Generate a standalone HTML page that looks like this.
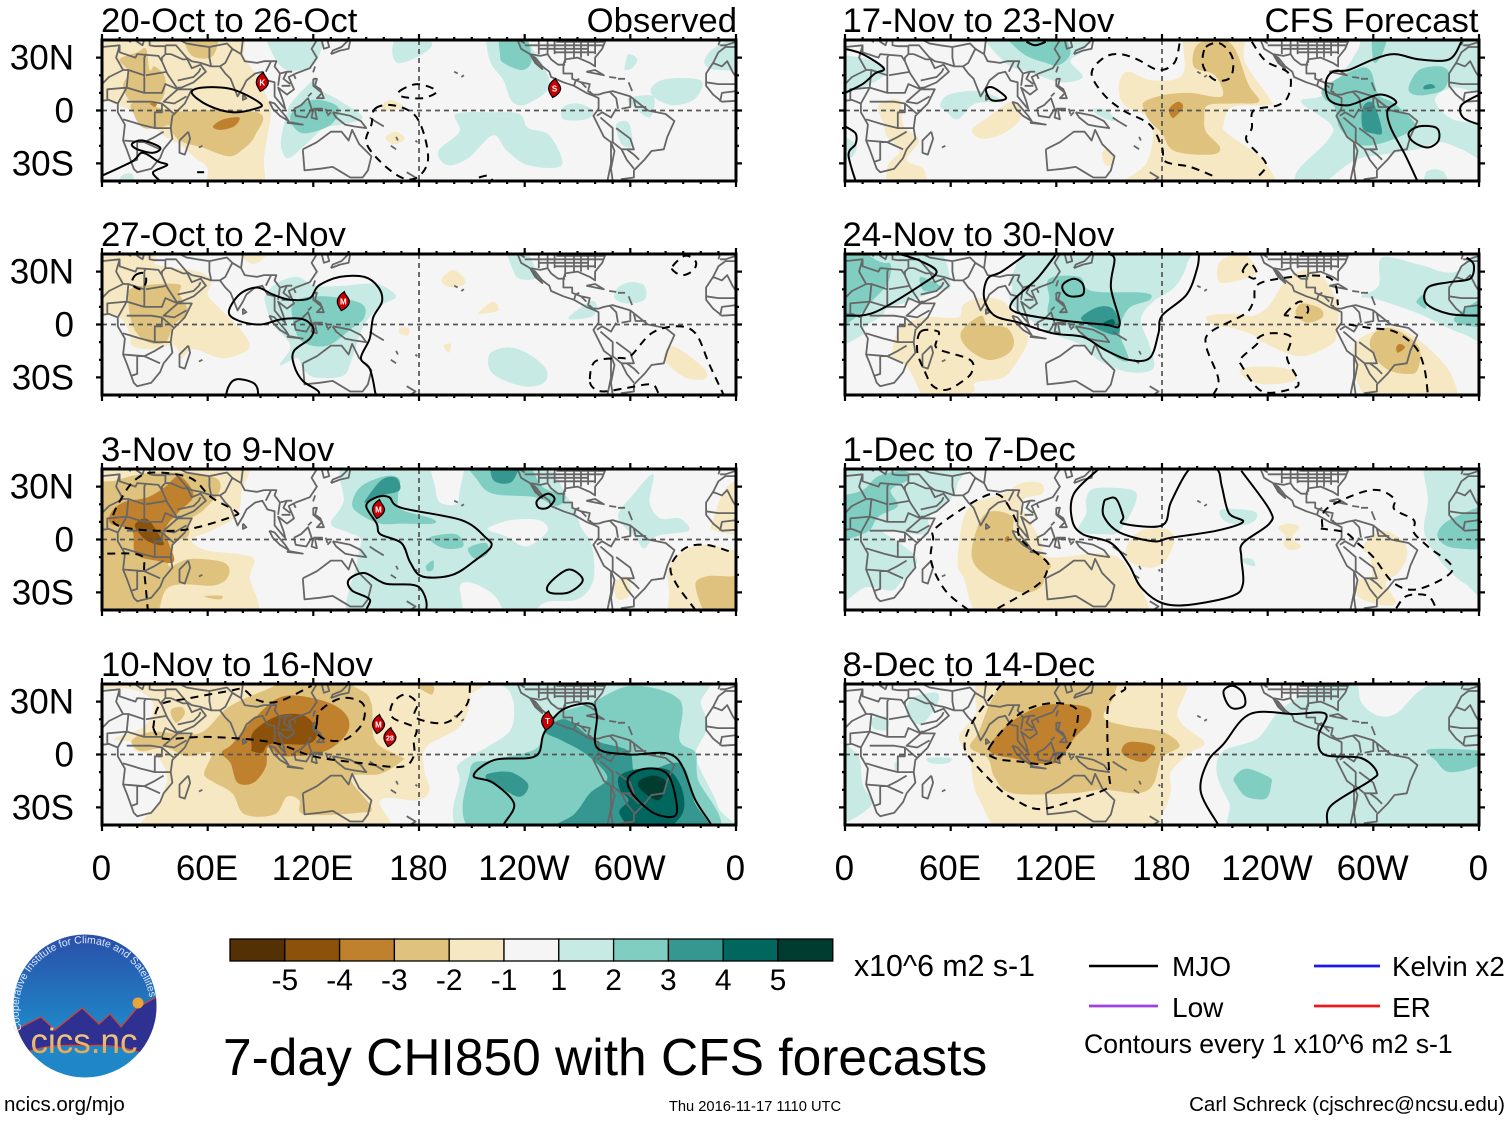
<!DOCTYPE html>
<html lang="en">
<head>
<meta charset="utf-8">
<title>7-day CHI850 with CFS forecasts</title>
<style>
html,body{margin:0;padding:0;background:#fff;}
svg{display:block;}
text{font-family:"Liberation Sans",Arial,sans-serif;fill:#000;}
</style>
</head>
<body>
<svg id="chart" xmlns="http://www.w3.org/2000/svg" width="1510" height="1121" viewBox="0 0 1510 1121">
  <rect width="1510" height="1121" fill="#fff"/>
  <defs>
    <linearGradient id="logoSky" x1="0" y1="0" x2="0" y2="1">
      <stop offset="0" stop-color="#2a4fa8"/><stop offset="0.65" stop-color="#1f86c8"/><stop offset="1" stop-color="#1f86c8"/>
    </linearGradient>
    <linearGradient id="logoText" x1="0" y1="0" x2="0" y2="1">
      <stop offset="0" stop-color="#f5dc9a"/><stop offset="1" stop-color="#e09a45"/>
    </linearGradient>
    <clipPath id="logoClip"><ellipse cx="85" cy="1006" rx="71.5" ry="71.5"/></clipPath>
    <path id="logoRing" d="M 22 1030 A 66 66 0 1 1 150 1000"/>
  </defs>
  <g id="panels"></g>
  <g id="colorbar"></g>
  <text x="854" y="976" font-size="30.3">x10^6 m2 s-1</text>
  <g>
    <ellipse cx="85" cy="1006" rx="71.5" ry="71.5" fill="url(#logoSky)"/>
    <g clip-path="url(#logoClip)">
      <path d="M10 1030 L19 1028 L41 1017 L55 1030 L82 1008 L99 1024 L110 1014 L121 1027 L137 1008 L160 995 L160 1060 Q120 1042 85 1046 Q40 1042 10 1060 Z" fill="#2e3192" stroke="#d8402a" stroke-width="1.2"/>
      <circle cx="138" cy="1003" r="5.5" fill="#eaa53a"/>
    </g>
    <text font-size="10.5" style="fill:#dfe8ff"><textPath href="#logoRing">Cooperative Institute for Climate and Satellites</textPath></text>
    <text x="84" y="1053" font-size="35" text-anchor="middle" style="fill:url(#logoText)">cics.nc</text>
  </g>
  <text x="223" y="1075" font-size="51.5">7-day CHI850 with CFS forecasts</text>
  <text x="4" y="1111" font-size="20.5">ncics.org/mjo</text>
  <text x="755" y="1111" font-size="14.7" text-anchor="middle">Thu 2016-11-17 1110 UTC</text>
  <text x="1505" y="1111" font-size="20.5" text-anchor="end">Carl Schreck (cjschrec@ncsu.edu)</text>
  <g>
    <line x1="1089" x2="1158" y1="966" y2="966" stroke="#000" stroke-width="2.4"/>
    <text x="1172" y="976" font-size="28">MJO</text>
    <line x1="1089" x2="1158" y1="1006" y2="1006" stroke="#a040e0" stroke-width="2.8"/>
    <text x="1172" y="1017" font-size="28">Low</text>
    <line x1="1314" x2="1380" y1="966" y2="966" stroke="#1a1aee" stroke-width="2.8"/>
    <text x="1392" y="976" font-size="27.8">Kelvin x2</text>
    <line x1="1314" x2="1380" y1="1006" y2="1006" stroke="#ee1a1a" stroke-width="2.8"/>
    <text x="1392" y="1017" font-size="28">ER</text>
    <text x="1084" y="1053" font-size="26.6">Contours every 1 x10^6 m2 s-1</text>
  </g>
</svg>
<script>
/* ---------- axis data ---------- */
const lonTicks = [0, 60, 120, 180, 240, 300, 360];
const lonTickLabels = ['0', '60E', '120E', '180', '120W', '60W', '0'];
const latTicks = [30, 0, -30];
const latTickLabels = ['30N', '0', '30S'];
const panelTitles = ['20-Oct to 26-Oct', '27-Oct to 2-Nov', '3-Nov to 9-Nov', '10-Nov to 16-Nov', '17-Nov to 23-Nov', '24-Nov to 30-Nov', '1-Dec to 7-Dec', '8-Dec to 14-Dec'];
const colorbarColors = ['#543005', '#8c510a', '#bf812d', '#dfc27d', '#f6e8c3', '#f5f5f5', '#c7eae5', '#80cdc1', '#35978f', '#01665e', '#003c30'];
const colorbarLabels = ['-5', '-4', '-3', '-2', '-1', '1', '2', '3', '4', '5'];

/* ---------- velocity potential anomaly regions: [level, [lon,lat,...]] ---------- */
const panelFills = [
[ /* 20-Oct */
 [-1,[0,40,72,40,81,30,87,21,93,9,96,0,94,-14,92,-27,90,-40,61,-40,60,-33,53,-27,44,-19,35,-14,19,-1,0,13]],
 [-1,[159,3,164,6,171,2,160,0]],[-1,[161,-15,167,-12,172,-16,167,-19,163,-18]],
 [-2,[10,29,20,33,25,35,27,23,30,25,36,18,33,5,19,3,12,13,15,22]],
 [-2,[47,40,65,40,63,31,50,32]],
 [-2,[40,-1,88,-1,87,-14,80,-22,72,-26,57,-21,44,-17,38,-8]],
 [-2,[18,4,40,-1,38,-8,24,-10,18,-2]],
 [-3,[63,-9,69,-5,78,-4,75,-9,67,-11]],[-3,[27,4,31,4,30,2]],
 [1,[102,-14,105,-2,108,5,121,18,122,13,136,5,148,-4,136,-8,126,-10,116,-19,106,-27,102,-22]],
 [1,[94,40,124,40,121,27,105,23,96,34]],
 [1,[165,36,171,40,187,39,182,32,168,27]],
 [1,[219,40,234,40,254,17,242,4,233,5,228,17,220,29]],
 [1,[297,26,299,32,304,29,301,24,297,23]],
 [1,[312,13,321,18,340,17,337,7,325,3,314,7]],
 [1,[342,27,347,35,359,39,360,25,349,23]],
 [1,[262,2,270,4,279,0,275,-5,262,-5]],
 [1,[299,7,313,8,311,-4,301,3]],
 [1,[292,-8,299,-7,301,-20,295,-19]],
 [1,[191,-23,203,-12,201,-2,222,-1,237,-2,242,-10,254,-14,261,-31,242,-31,230,-23,222,-14,208,-27,196,-31]],
 [1,[10,-39,17,-36,19,-40]],
 [2,[108,-1,120,6,134,2,130,-8,115,-13,108,-8]],
 [2,[226,40,238,40,244,30,239,23,228,27,226,32]]
],
[ /* 27-Oct */
 [-1,[0,40,29,39,31,34,55,30,62,24,60,17,67,9,78,-2,84,-12,78,-17,67,-19,52,-14,45,-19,41,-12,27,-14,17,-12,16,-6,10,4,0,13]],
 [-1,[76,40,97,40,90,36,82,36]],
 [-1,[193,26,199,31,205,27,206,23,199,21,194,23]],
 [-1,[214,7,222,13,225,8,215,6]],
 [-1,[169,-2,174,-2,174,-6,169,-5]],
 [-1,[194,-12,198,-11,197,-16]],
 [-1,[320,-15,326,-13,342,-25,342,-31,331,-30,320,-21]],
 [-2,[18,21,43,23,44,17,49,7,41,0,36,-10,26,-10,18,-2,15,13]],
 [1,[93,17,100,24,111,27,121,22,137,22,156,23,167,16,159,11,149,0,142,-19,137,-29,121,-30,114,-25,111,-19,101,-23,107,-12,97,0,93,11]],
 [1,[228,40,237,40,247,28,237,26,233,32]],
 [1,[293,21,300,24,308,22,308,14,298,12,291,15]],
 [1,[265,4,277,13,281,11,279,5,270,3]],
 [1,[220,-17,230,-13,241,-16,252,-25,251,-33,239,-35,222,-28]],
 [2,[109,13,126,16,147,12,149,4,142,-2,128,-12,114,-10,109,0]]
],
[ /* 3-Nov */
 [-1,[0,40,77,40,79,26,76,13,62,5,51,0,59,-6,85,-10,84,-21,82,-40,0,-40]],
 [-1,[322,-15,331,-6,343,-3,357,-6,360,-8,360,-40,326,-40,322,-29]],
 [-1,[347,11,355,30,360,32,360,5,348,5]],
 [-1,[291,-25,298,-21,300,-31,293,-34]],
 [-2,[0,23,10,34,32,38,62,36,67,28,58,17,50,11,49,2,41,-2,38,-15,50,-11,69,-13,72,-20,64,-26,38,-27,27,-40,0,-40]],
 [-2,[59,-32,68,-32,67,-34,60,-33]],
 [-2,[337,-27,343,-21,357,-21,360,-21,360,-40,347,-40]],
 [-3,[12,21,26,24,36,30,44,36,52,25,43,15,36,5,41,-12,31,-12,19,-8,17,5,5,9,5,15]],
 [-4,[19,9,25,12,31,5,35,-3,26,-1,20,5]],
 [1,[130,9,137,21,144,40,239,40,265,23,272,7,278,-3,279,-23,270,-34,251,-36,241,-40,232,-40,222,-31,204,-25,200,-40,142,-40,145,-12,147,0,140,4]],
 [1,[293,13,302,26,313,37,311,21,317,12,328,12,333,5,315,2,308,-5,303,1]],
 [0,[187,40,205,40,203,27,201,20,192,21,189,30]],
 [0,[220,7,232,11,248,11,253,5,241,-4,229,2,220,5]],
 [2,[142,20,147,30,161,36,169,34,168,24,170,17,187,12,188,9,170,9,158,9,147,14]],
 [2,[206,40,237,40,250,30,263,25,258,19,246,24,222,26,213,34]],
 [2,[186,1,201,3,205,-4,194,-5]],
 [2,[208,-5,218,-2,219,-8,212,-11]],
 [2,[184,-15,188,-12,188,-17,185,-18]],
 [3,[150,23,159,34,167,35,169,28,159,25,150,21]],
 [3,[222,40,237,40,233,33,222,34]]
],
[ /* 10-Nov */
 [-1,[0,40,206,40,209,33,207,22,201,14,184,4,183,-9,186,-20,179,-26,158,-26,155,-40,29,-40,33,-26,37,-13,31,-1,19,2,17,7,7,9,24,16,29,29,17,37,0,38]],
 [-2,[17,8,29,13,55,12,72,27,96,38,119,40,146,37,153,29,155,8,169,-1,171,-3,158,-11,141,-13,153,-30,146,-33,115,-34,112,-26,105,-24,98,-34,81,-34,74,-22,64,-16,58,-11,62,1,48,-1,36,4,22,2]],
 [-2,[39,25,45,27,47,23,42,18]],
 [-2,[179,39,188,39,187,34]],
 [-3,[68,1,74,6,86,20,103,33,127,30,139,22,139,12,127,2,108,-1,100,0,94,4,93,-7,86,-16,77,-16,73,-5]],
 [-4,[85,4,86,13,100,22,115,22,122,13,117,6,96,6,91,1,85,2]],
 [1,[229,40,338,40,340,29,344,16,337,1,340,-9,350,-30,352,-40,213,-40,203,-13,203,-5,220,5,232,14,234,27,232,35]],
 [2,[277,29,301,39,328,31,328,8,337,1,338,-13,344,-40,218,-40,209,-9,222,-3,246,3,251,14,258,23]],
 [3,[219,-11,232,-10,242,-17,237,-24,225,-18,219,-15]],
 [3,[252,13,263,20,280,8,299,2,304,-11,328,-5,336,-26,340,-40,251,-40,268,-34,277,-22,287,-13,275,0,261,8]],
 [4,[294,-12,306,-8,322,-9,330,-22,328,-36,309,-40,294,-34,299,-26,294,-20]],
 [5,[305,-15,313,-12,320,-15,319,-22,315,-26,306,-20]]
],
[ /* 17-Nov */
 [1,[0,30,17,28,23,21,10,13,0,9]],
 [1,[81,40,142,40,135,34,128,28,135,19,123,16,107,21,90,28]],
 [1,[0,-13,6,-19,3,-27,0,-27]],
 [1,[54,3,59,9,76,11,90,5,74,4,64,-5,57,0]],
 [1,[141,1,149,0,153,-6,144,-3]],
 [1,[259,5,272,9,286,26,291,34,303,40,360,40,360,12,345,13,335,6,345,-5,360,-10,360,-30,350,-22,338,-18,325,-22,305,-25,288,-29,262,-40,256,-36,274,-17,276,-8]],
 [1,[330,-35,340,-35,343,-40,330,-40]],
 [2,[272,13,289,23,298,23,303,9,312,4,324,-8,319,-13,303,-19,291,-19,281,-10,278,2,272,7]],
 [2,[320,13,326,23,338,25,343,21,340,12,331,9,323,9]],
 [2,[300,40,309,40,305,32,300,28]],
 [2,[89,40,118,40,128,34,122,26,114,27,100,33]],
 [3,[294,2,300,4,305,-12,300,-13,294,-10]],
 [3,[329,14,333,15,335,13,329,12]],
 [-1,[72,-11,81,-4,95,5,100,-4,90,-13,78,-16]],
 [-1,[19,3,31,6,33,-8,42,-17,35,-28,45,-34,44,-40,26,-40,24,-32,31,-23,24,-15,22,-8]],
 [-1,[146,-24,150,-22,153,-30,148,-31]],
 [-1,[156,17,161,22,175,17,192,21,194,40,225,40,227,28,241,7,241,3,220,2,215,-8,217,-13,239,-30,237,-40,156,-40,171,-30,175,-12,171,-3,160,2,156,8]],
 [-2,[170,5,182,9,196,10,214,8,210,20,198,25,201,38,219,38,229,15,235,5,220,4,206,3,204,-4,205,-12,213,-21,208,-25,187,-23,180,-13,173,-6,170,0]],
 [-3,[184,1,189,5,192,2,187,-4,185,-3]]
],
[ /* 24-Nov */
 [1,[0,40,47,40,60,23,52,19,36,13,24,9,21,5,10,-2,10,-6,0,-8]],
 [1,[95,29,114,40,192,40,194,34,187,21,175,13,168,3,173,-12,175,-25,161,-27,145,-21,135,-12,116,-4,95,11,95,21]],
 [1,[293,16,303,22,305,38,326,34,347,30,360,40,360,-7,350,-5,326,6,303,14]],
 [2,[0,40,19,36,26,34,24,23,15,13,10,7,0,0]],
 [2,[43,27,55,21,45,19]],
 [2,[116,26,133,27,140,19,170,18,173,14,161,9,156,-4,161,-19,156,-20,142,-10,130,-2,116,5,116,15]],
 [2,[325,14,329,17,330,9,325,12]],
 [2,[347,5,360,17,360,0,350,0]],
 [3,[135,5,144,10,152,9,156,0,154,-6,142,-2,135,2]],
 [4,[147,1,152,3,153,0,148,-1]],
 [-1,[26,-19,31,-2,45,4,64,4,67,11,76,15,90,13,99,0,104,-8,99,-19,90,-30,74,-33,72,-39,50,-40,36,-25,27,-20]],
 [-1,[212,34,219,39,228,39,234,30,227,26,213,24]],
 [-1,[206,5,222,6,232,5,241,11,251,26,263,31,272,26,280,11,279,-6,275,-12,258,-18,237,-10,232,-6,220,-2,208,0]],
 [-1,[225,-25,244,-24,255,-27,255,-32,239,-34,228,-31]],
 [-1,[289,-12,300,-4,314,-2,331,-13,345,-30,345,-40,308,-40,300,-40,290,-30]],
 [-2,[66,-4,77,5,81,0,92,-2,96,-10,92,-17,81,-20,69,-13]],
 [-2,[256,8,260,12,270,9,271,4,263,1,257,4]],
 [-2,[298,-10,303,-3,313,-3,326,-13,325,-26,319,-28,309,-26,301,-19]],
 [-3,[313,-13,315,-11,318,-13,314,-16]]
],
[ /* 1-Dec */
 [1,[0,40,67,40,64,32,60,23,48,13,46,3,22,5,31,-2,41,-12,31,-25,26,-29,12,-27,0,-32]],
 [1,[137,23,142,29,163,28,165,21,156,5,147,3,133,5,137,15]],
 [1,[214,17,232,16,233,11,225,8,215,11]],
 [1,[225,-11,231,-11,233,-15,228,-14]],
 [1,[331,40,360,40,360,-30,352,-25,338,-12,329,4,331,22]],
 [2,[0,21,10,28,19,36,34,39,36,34,26,28,30,19,19,13,12,4,0,0]],
 [2,[337,5,345,12,360,19,360,-3,347,-5,338,-1]],
 [-1,[64,-12,67,11,74,21,90,26,100,32,111,32,112,26,100,21,111,0,116,-10,147,-8,161,-17,168,-40,85,-40,67,-21]],
 [-1,[160,-4,168,5,182,6,187,0,182,-12,173,-16,161,-12]],
 [-1,[246,7,252,9,258,7,254,1,259,-4,253,-6,249,-3,250,2]],
 [-1,[294,-4,305,5,317,-1,319,-10,314,-19,307,-25,313,-36,303,-37,291,-32,292,-23,299,-21,298,-10]],
 [-2,[72,-10,76,9,83,16,95,13,97,2,116,-13,114,-19,111,-27,100,-30,81,-21]],
 [-3,[91,1,93,2,93,-1,91,-1]]
],
[ /* 8-Dec */
 [1,[38,32,52,35,52,28,43,17,35,23]],
 [1,[16,21,24,21,24,14,16,15]],
 [1,[0,5,7,0,10,-17,15,-29,0,-38]],
 [1,[47,-2,60,-2,58,-5,49,-5]],
 [1,[28,-5,31,-5,29,-10]],
 [1,[215,2,234,9,246,24,263,36,288,40,293,30,303,22,314,24,331,39,360,40,360,-40,232,-40,218,-27,211,-10]],
 [2,[221,-13,228,-8,241,-13,242,-17,239,-25,228,-24,222,-17]],
 [2,[332,3,360,1,358,-7,343,-10,336,-4]],
 [-1,[65,11,74,23,85,40,187,40,189,21,204,7,196,1,185,-10,185,-21,180,-34,170,-40,97,-40,76,-25,71,-4,67,4]],
 [-2,[76,13,85,34,100,40,151,40,153,34,147,21,161,16,180,13,190,5,180,-2,175,-17,166,-22,147,-20,128,-22,95,-22,85,-13,81,-2,71,4]],
 [-3,[82,5,95,19,114,28,137,27,139,19,130,9,121,-4,109,-5,95,-2,85,0]],
 [-3,[157,2,161,7,173,6,176,3,170,-4,161,-2]]
]
];

/* ---------- MJO contour lines ---------- */
const panelSolidClosed = [
 [[51,10,57,13,74,12,90,4,87,1,74,-1,60,3],[17,-19,23,-17,33,-21,29,-24,20,-22]],
 [[72,7,78,17,88,21,97,17,107,14,118,15,123,22,135,27,149,27,157,21,159,13,154,4,152,-8,147,-19,152,-25,155,-38,155,-45,125,-45,123,-38,114,-32,109,-23,109,-15,118,-8,120,-2,114,3,102,3,90,0,78,2],[72,-35,77,-31,87,-34,87,-42,72,-42]],
 [[150,19,156,24,163,24,170,18,204,11,218,1,221,-4,213,-11,199,-20,182,-21,175,-13,170,-2,158,3,156,9],[247,22,253,26,257,23,253,18,248,18],[254,-25,265,-17,273,-23,265,-30,254,-30],[140,-23,149,-19,161,-25,180,-27,182,-42,152,-42,152,-34,142,-29]],
 [[211,-12,223,-3,246,-1,251,12,261,25,277,29,281,22,281,4,299,0,325,-1,337,-26,346,-40,346,-45,228,-45,228,-40,234,-28,222,-16],[299,-13,309,-8,321,-11,326,-26,325,-35,313,-33,301,-22]],
 [[80,12,84,13,91,8,90,6,83,6],[320,-13,326,-9,336,-10,337,-17,331,-21,323,-18]],
 [[124,23,130,26,135,23,135,17,128,16,124,19]],
 [[149,23,154,23,158,13,158,9,180,8,185,21,194,38,199,40,211,40,214,30,218,15,226,10,211,5,185,1,175,-1,156,4,147,13,147,21]],
 [[215,36,220,39,226,35,227,28,221,26,217,29]]
];
const panelSolidOpen = [
 [[0,-37,17,-29,23,-24,32,-29,37,-31,29,-35,33,-40],[54,-35,58,-35]],
 [],
 [],
 [],
 [[0,35,10,32,22,24,17,21,10,15,0,10],[0,-9,6,-13,6,-19,2,-25,6,-40],[103,39,108,37,114,39],[350,39,343,29,326,29,312,32,300,29,286,23,277,22,273,16,275,6,286,3,303,9,313,5,308,0,310,-10,318,-25,325,-40],[360,9,350,3,351,-4,360,-8]],
 [[0,5,17,7,44,23,52,30,43,36,31,40],[103,40,89,30,81,26,79,15,85,5,99,1,118,-5,135,-7,147,-14,161,-20,173,-19,178,-5,180,5,194,17,200,32,201,40],[120,40,109,26,95,13,97,7,118,3,147,0,156,0,151,21,153,37,149,40],[360,5,343,6,330,12,331,21,343,24,355,26,357,34,353,38]],
 [[144,40,130,26,129,11,135,3,151,-2,161,-14,168,-27,180,-36,196,-37,220,-32,226,-25,225,-10,226,-2,241,9,241,17,225,39]],
 [[274,-40,276,-29,298,-15,302,-10,293,-2,272,0,269,11,273,23,255,23,230,23,215,6,206,-4,202,-21,212,-40]]
];
const panelDashClosed = [
 [[169,11,179,15,190,11,182,7,170,8],[155,1,165,3,177,-2,183,-14,185,-29,179,-38,170,-38,158,-29,150,-18,153,-8]],
 [[19,28,24,29,25,24,22,20,17,23],[324,33,331,39,337,36,336,31,330,28,325,30],[277,-31,280,-21,293,-19,300,-18,312,-5,326,-1,337,-5,345,-23,353,-40,355,-45,320,-45,316,-39,312,-34,298,-36,285,-38,279,-36]],
 [[76,16,74,13,50,6,31,5,12,7,6,12,12,25,19,34,29,38,50,35,62,24]],
 [[122,18,124,25,136,32,148,29,148,18,139,9,129,8,122,12]],
 [[205,36,213,38,220,30,219,19,211,17,205,22,203,28]],
 [[43,-4,53,-4,52,-9,53,-14,71,-20,72,-27,67,-32,58,-37,50,-35,45,-26,41,-15],[226,31,230,35,234,29,232,26,227,29],[250,6,258,13,263,9,260,4,252,5],[234,-8,241,-5,253,-7,251,-19,257,-31,255,-36,237,-38,225,-23,225,-19,234,-11]],
 [[271,7,273,17,291,26,303,28,312,23,312,17,323,11,323,4,331,-4,345,-17,326,-28,312,-25,300,-10,291,-2,284,4,272,6]],
 [[82,4,99,23,116,29,130,27,132,19,127,5,116,-5,99,-4,85,-2]]
];
const panelDashOpen = [
 [[214,-38,219,-37,222,-40]],
 [],
 [[3,-8,22,-9,24,-19,26,-40],[337,-40,326,-25,323,-15,331,-5,343,-3,357,-7]],
 [[29,15,35,9,60,10,96,7,120,-1,148,-5,170,-7,177,-1,177,8,178,15,165,21,165,29,172,34,179,29,178,21,195,18,207,28,209,40],[29,15,33,28,50,32,72,36,80,37,88,31,100,30,119,39]],
 [[190,38,187,27,178,23,166,29,156,32,147,30,140,21,147,9,158,0,173,-8,180,-21,182,-29,196,-32,211,-38],[231,39,239,28,252,21,252,9,246,3,232,0,231,-10,228,-17,239,-30,234,-38]],
 [[209,-40,212,-31,205,-12,208,-4,227,6,232,13,237,24,274,27,280,11],[286,0,298,-2,312,-4,324,-13,329,-25,331,-40]],
 [[70,-40,57,-29,49,-13,50,0,52,7,76,23,88,25,97,11,100,0,114,-12,115,-17,109,-26,85,-40],[313,-39,319,-32,331,-32,336,-40]],
 [[89,40,74,21,68,7,71,-2,87,-19,97,-26,111,-31,133,-25,149,-19,150,-12,149,9,150,30,159,37,156,40]]
];

/* ---------- tropical cyclones: [label, lon, lat] ---------- */
const panelStorms = [
 [['K',91,16],['S',257,12.5]],
 [['M',137,13]],
 [['M',157,17]],
 [['M',157,17],['28',163.5,9.6],['T',253,19]],
 [],[],[],[]
];

/* ---------- coastlines and borders [lon,lat,...] ---------- */
const coastLines = [
 [0,5.5,4,6,9,4,9,-1,13,-8,12,-17,14,-22,18,-33,20,-35,28,-33,33,-27,35,-22,40,-16,39,-10,40,-3,47,4,51,12,43,12,37,21,34,28,32,31,20,32,19,30,10,33,10,37,0,36],
 [360,5.5,352,5,347,9,343,14,343,21,347,27,350,33,354,36,360,36],
 [0,39,3,42,5,43,9,44,12,42,16,39,16,41,13,45,18,41,20,39,23,37,24,40,27,40,27,37,30,36.5,36,36.5,36,32,34,30,34,28],
 [351,37,354,37,360,39],[350,37,351,40],
 [43,13,45,13,52,16,59,22,56,26,51,24,48,30,51,28,56,27,62,25,67,25,70,21,73,18,77,8,80,13,82,17,87,21,91,22,94,17,98,16,98,8,103,2,104,1,103,5,100,13,105,9,109,12,106,19,110,21,118,24,122,30,119,35,122,40],
 [125,40,125,39,126,35,129,36,128,40],[130,32,135,34,140,35,141,40],[130,32,131,34,136,36,140,40],
 [95,5,98,4,104,-3,106,-6,101,-3,97,1,95,5],[105,-7,114,-8,106,-6.5,105,-7],
 [109,1,113,3,117,7,119,1,116,-4,110,-3,109,1],[120,1,125,1,121,0,122,-5,119,-4,120,1],
 [120,18,122,18,121,14,124,12,126,7,122,7,125,10,120,14,120,18],[119,10,117,8],
 [131,-1,141,-3,147,-6,150,-10,143,-9,138,-8,133,-4,131,-1],[128,-3,130,-1],[127,1,128,-2],
 [114,-22,122,-18,130,-12,136,-12,140,-17,142,-11,146,-19,153,-26,151,-34,148,-38,141,-38,136,-35,131,-32,124,-33,115,-34,114,-22],
 [49,-12,50,-16,47,-25,44,-24,44,-17,49,-12],[80,9,82,7,80,6,80,9],[121,25,120,22,121,25],[109,20,110,18],
 [55,-21,57,-20],[152,-4,155,-6],[155,-6,160,-9],[167,-15,168,-17],[178,-17,179,-18],[164,-20,167,-22],[173,-35,178,-38,175,-40],[204,19,205.5,20],[200,22,202,21],
 [236,40,238,35,243,32,246,27,250,23.5,247,27,244,31,246,30,250,25,254,22,255,19,262,16,268,14,275,10,280,8,282,7,282,1,279,-3,285,-15,289,-18,289,-30,287,-40],
 [298,-40,295,-39,302,-38,302,-34,308,-28,312,-23,319,-22,321,-15,325,-6,320,-2,310,0,300,8,290,11,285,10,282,9,279,9,276,11,277,15,272,16,267,18,267,21,262,21,262,26,263,29,270,30,277,27,280,25,280,30,284,35,286,40],
 [275,22,285,20,280,23,275,22],[288,19,292,18.5],[297,18,293,18],[299,16,301,11],[237,40,240,38]
];
const borderLines = [
 [10,37,8,30,12,23,15,23,24,20,24,30,25,32],[25,20,37,22],[24,20,24,10,34,10,36,15,43,12],[15,23,14,13,24,10],[0,15,4,19,12,23],[3,6,3,12,14,13],[9,4,14,13],[14,5,28,5,34,4,41,-2],[34,4,34,-1,30,-1,30,-10,39,-10],[12,-5,22,-8,30,-10],[12,-17,24,-18,30,-15,35,-12],[20,-18,20,-28,17,-29],[24,-18,33,-22],[43,12,35,5,41,4,48,8],
 [343,16,350,15,360,15],[347,27,352,25,355,28,358,22,360,19],[351,5,352,10,360,11],
 [36,37,42,37,48,30],[39,32,46,29,48,29],[36,32,39,32],[43,17,52,19,55,22,56,24],[44,40,48,38,54,37,61,36,61,30,62,25],[61,36,66,37,71,38,74,35,70,27,67,25],[74,35,79,32,81,28,88,27,92,28,96,28,93,22],[79,32,80,40],[92,28,99,28,98,25,101,21,100,14],[101,21,105,22,108,22],[102,14,107,14],[105,22,103,18,107,15],
 [283,-4,290,-10,290,-18,295,-22,298,-28,302,-33],[292,1,289,-4,284,-1,281,-3],[289,-18,291,-23,289,-33,290,-40],[298,-22,302,-25,305,-28],[293,1,292,7,288,11],[300,8,300,2,295,1],[302,6,303,2,309,2],[292,-10,300,-16,302,-22,295,-22],
 [268,14,269,17,271,18],[272,16,275,13],[277,11,278,9],
 [243,32,249,31,253,32,255,29,259,26,263,26],[248,40,248,32],[253,40,253,32],[257,40,257,32],[263,40,263,27],[268,40,268,30],[272,40,272,30],[276,40,276,31],[280,40,280,32],[240,37,285,37],[248,35,276,35],[257,33,280,33],[258,39,286,39]
];

/* ---------- axes ---------- */
const SVGNS = 'http://www.w3.org/2000/svg';
const PLOT_W = 634, PLOT_H = 141;
const colLefts = [102, 845];
const rowTops = [40, 254, 469, 684];

function makeEl(tag, attrs, parent) {
  const el = document.createElementNS(SVGNS, tag);
  for (const k in attrs) el.setAttribute(k, attrs[k]);
  if (parent) parent.appendChild(el);
  return el;
}
function xScale(lon, left) { return left + (lon / 360) * PLOT_W; }
function yScale(lat, top) { return top + PLOT_H / 2 - (lat / 40) * (PLOT_H / 2); }

function flatToPoints(flat, left, top, pushEdges) {
  const pts = [];
  for (let i = 0; i < flat.length; i += 2) {
    let x = xScale(flat[i], left), y = yScale(flat[i + 1], top);
    if (pushEdges) {
      if (flat[i] <= 0) x -= 14;
      if (flat[i] >= 360) x += 14;
      if (flat[i + 1] >= 40) y -= 14;
      if (flat[i + 1] <= -40) y += 14;
    }
    pts.push([x, y]);
  }
  return pts;
}
function closedSpline(p) {
  const n = p.length;
  let d = 'M' + p[0][0].toFixed(1) + ' ' + p[0][1].toFixed(1);
  for (let i = 0; i < n; i++) {
    const a = p[(i - 1 + n) % n], b = p[i], c = p[(i + 1) % n], e = p[(i + 2) % n];
    d += 'C' + (b[0] + (c[0] - a[0]) / 6).toFixed(1) + ' ' + (b[1] + (c[1] - a[1]) / 6).toFixed(1) + ' ' +
         (c[0] - (e[0] - b[0]) / 6).toFixed(1) + ' ' + (c[1] - (e[1] - b[1]) / 6).toFixed(1) + ' ' +
         c[0].toFixed(1) + ' ' + c[1].toFixed(1);
  }
  return d + 'Z';
}
function openSpline(p) {
  const n = p.length;
  let d = 'M' + p[0][0].toFixed(1) + ' ' + p[0][1].toFixed(1);
  for (let i = 0; i < n - 1; i++) {
    const a = p[Math.max(i - 1, 0)], b = p[i], c = p[i + 1], e = p[Math.min(i + 2, n - 1)];
    d += 'C' + (b[0] + (c[0] - a[0]) / 6).toFixed(1) + ' ' + (b[1] + (c[1] - a[1]) / 6).toFixed(1) + ' ' +
         (c[0] - (e[0] - b[0]) / 6).toFixed(1) + ' ' + (c[1] - (e[1] - b[1]) / 6).toFixed(1) + ' ' +
         c[0].toFixed(1) + ' ' + c[1].toFixed(1);
  }
  return d;
}
function polyline(flat, left, top) {
  const p = flatToPoints(flat, left, top, false);
  return 'M' + p.map(q => q[0].toFixed(1) + ' ' + q[1].toFixed(1)).join('L');
}

const panelsRoot = document.getElementById('panels');
const defs = document.querySelector('defs');

panelTitles.forEach(function (title, idx) {
  const left = colLefts[idx < 4 ? 0 : 1];
  const top = rowTops[idx % 4];
  const isBottom = idx % 4 === 3;
  const textShift = idx < 4 ? 0 : -1.5;

  const g = makeEl('g', {}, panelsRoot);
  
  

  const clip = makeEl('clipPath', { id: 'clip' + idx }, defs);
  makeEl('rect', { x: left, y: top, width: PLOT_W, height: PLOT_H }, clip);

  const bg = makeEl('rect', { x: left, y: top, width: PLOT_W, height: PLOT_H, fill: colorbarColors[5] }, g);
  
  

  const plot = makeEl('g', { 'clip-path': 'url(#clip' + idx + ')' }, g);
  
  

  panelFills[idx].forEach(function (f) {
    const pts = flatToPoints(f[1], left, top, true);
    const shape = makeEl('path', { d: closedSpline(pts), fill: colorbarColors[f[0] + 5] }, plot);
    
    
  });

  const coastPath = coastLines.concat(borderLines).map(l => polyline(l, left, top)).join('');
  const coast = makeEl('path', { d: coastPath, fill: 'none', stroke: '#666', 'stroke-width': 1.8, 'stroke-linejoin': 'round' }, plot);
  
  

  const eq = makeEl('line', { x1: left, x2: left + PLOT_W, y1: yScale(0, top), y2: yScale(0, top), stroke: '#555', 'stroke-width': 1.7, 'stroke-dasharray': '5 4' }, plot);
  
  
  const dl = makeEl('line', { x1: xScale(180, left), x2: xScale(180, left), y1: top, y2: top + PLOT_H, stroke: '#555', 'stroke-width': 1.7, 'stroke-dasharray': '5 4' }, plot);
  
  

  function contour(flat, closed, dashed) {
    const pts = flatToPoints(flat, left, top, false);
    const attrs = { d: closed ? closedSpline(pts) : openSpline(pts), fill: 'none', stroke: '#000', 'stroke-width': 2 };
    if (dashed) attrs['stroke-dasharray'] = '8 6';
    const line = makeEl('path', attrs, plot);
    
    
  }
  panelSolidClosed[idx].forEach(c => contour(c, true, false));
  panelSolidOpen[idx].forEach(c => contour(c, false, false));
  panelDashClosed[idx].forEach(c => contour(c, true, true));
  panelDashOpen[idx].forEach(c => contour(c, false, true));

  panelStorms[idx].forEach(function (s) {
    const x = xScale(s[1], left), y = yScale(s[2], top);
    const storm = makeEl('g', { transform: 'translate(' + x.toFixed(1) + ' ' + y.toFixed(1) + ')' }, plot);
    
    
    makeEl('path', { d: 'M1 -10 C-2 -8 -6 -5 -6 0 C-6 4 -3 7 -2 9 C1 8 6 4 6 0 C6 -4 2 -6 1 -10Z', fill: '#cc0000', stroke: '#000', 'stroke-width': 1.2 }, storm);
    const t = makeEl('text', { x: 0, y: 3, 'font-size': s[0].length > 1 ? 7 : 8, 'font-weight': 'bold', 'text-anchor': 'middle', style: 'fill:#fff' }, storm);
    t.textContent = s[0];
  });

  /* ticks */
  let tickPath = '';
  for (let lon = 0; lon <= 360; lon += 10) {
    const x = xScale(lon, left), len = lon % 60 === 0 ? 6 : 3;
    tickPath += 'M' + x.toFixed(1) + ' ' + top + 'V' + (top - len) + 'M' + x.toFixed(1) + ' ' + (top + PLOT_H) + 'V' + (top + PLOT_H + len);
  }
  for (let lat = -30; lat <= 30; lat += 10) {
    const y = yScale(lat, top), len = lat % 30 === 0 ? 6 : 3;
    tickPath += 'M' + left + ' ' + y.toFixed(1) + 'H' + (left - len) + 'M' + (left + PLOT_W) + ' ' + y.toFixed(1) + 'H' + (left + PLOT_W + len);
  }
  const ticks = makeEl('path', { d: tickPath, stroke: '#000', 'stroke-width': 2.2, fill: 'none' }, g);
  
  

  const frame = makeEl('rect', { x: left, y: top, width: PLOT_W, height: PLOT_H, fill: 'none', stroke: '#000', 'stroke-width': 3 }, g);
  
  

  const titleEl = makeEl('text', { x: left - 1 + textShift, y: top - 8, 'font-size': 34.7 }, g);
  titleEl.textContent = title;
  
  

  if (idx < 4) {
    latTicks.forEach(function (lat, i) {
      const lab = makeEl('text', { x: left - 28, y: yScale(lat, top) + 12, 'font-size': 35, 'text-anchor': 'end' }, g);
      lab.textContent = latTickLabels[i];
      
      
    });
  }
  if (isBottom) {
    lonTicks.forEach(function (lon, i) {
      const lab = makeEl('text', { x: xScale(lon, left) - 0.7, y: 880, 'font-size': 35, 'text-anchor': 'middle' }, g);
      lab.textContent = lonTickLabels[i];
      
      
    });
  }
  if (idx === 0 || idx === 4) {
    const tag = makeEl('text', { x: left + PLOT_W + 1 + textShift, y: top - 8, 'font-size': 34.7, 'text-anchor': 'end' }, g);
    tag.textContent = idx === 0 ? 'Observed' : 'CFS Forecast';
    
    
  }
});

/* ---------- colorbar ---------- */
const cbRoot = document.getElementById('colorbar');
const CB_LEFT = 230, CB_TOP = 939, CB_BOX = 54.8, CB_H = 22;
colorbarColors.forEach(function (c, i) {
  const box = makeEl('rect', { x: CB_LEFT + i * CB_BOX, y: CB_TOP, width: CB_BOX, height: CB_H, fill: c, stroke: '#000', 'stroke-width': 1.3 }, cbRoot);
  
  
});
colorbarLabels.forEach(function (t, i) {
  const lab = makeEl('text', { x: CB_LEFT + (i + 1) * CB_BOX, y: 990, 'font-size': 30, 'text-anchor': 'middle' }, cbRoot);
  lab.textContent = t;
  
  
});
</script>
</body>
</html>
